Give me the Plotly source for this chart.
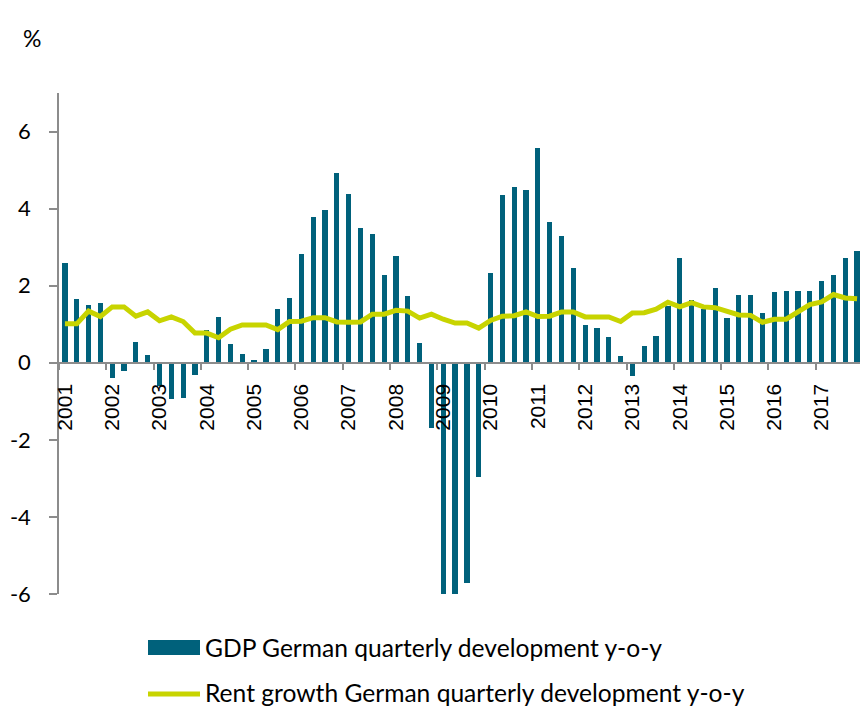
import plotly.graph_objects as go

years = [str(y) for y in range(2001, 2018)]
quarters = list(range(68))  # 2001Q1 .. 2017Q4

gdp = [2.60, 1.65, 1.51, 1.54,
       -0.40, -0.22, 0.55, 0.21,
       -0.60, -0.94, -0.91, -0.33,
       0.86, 1.19, 0.50, 0.23,
       0.07, 0.37, 1.39, 1.67,
       2.82, 3.77, 3.97, 4.93,
       4.39, 3.50, 3.33, 2.29,
       2.76, 1.74, 0.52, -1.70,
       -6.10, -6.10, -5.71, -2.97,
       2.34, 4.35, 4.57, 4.49,
       5.57, 3.64, 3.28, 2.45,
       0.99, 0.90, 0.66, 0.18,
       -0.35, 0.43, 0.70, 1.47,
       2.71, 1.64, 1.40, 1.93,
       1.15, 1.77, 1.77, 1.30,
       1.84, 1.85, 1.87, 1.85,
       2.13, 2.29, 2.71, 2.91]

rent = [1.01, 1.01, 1.34, 1.20,
        1.45, 1.45, 1.21, 1.32,
        1.09, 1.19, 1.07, 0.77,
        0.77, 0.65, 0.87, 0.98,
        0.98, 0.98, 0.86, 1.07,
        1.08, 1.17, 1.17, 1.06,
        1.05, 1.06, 1.26, 1.26,
        1.36, 1.34, 1.16, 1.26,
        1.13, 1.03, 1.03, 0.90,
        1.10, 1.21, 1.22, 1.32,
        1.20, 1.21, 1.32, 1.32,
        1.19, 1.19, 1.19, 1.07,
        1.29, 1.30, 1.39, 1.57,
        1.45, 1.56, 1.45, 1.43,
        1.33, 1.24, 1.23, 1.05,
        1.13, 1.13, 1.32, 1.51,
        1.58, 1.77, 1.68, 1.66]

gdp_name = "GDP German quarterly development y-o-y"
rent_name = "Rent growth German quarterly development y-o-y"
y_ticks = [-6, -4, -2, 0, 2, 4, 6]
y_ticktext = ["-6", "-4", "-2", "0", "2", "4", "6"]

BAR_COLOR = "#00617B"
LINE_COLOR = "#C8D400"
AXIS_COLOR = "#8C8C8C"

W, H = 860, 707
# plot area in page pixels
L, R, T, B = 59, 860, 93, 594


def px_x(px):
    return (px - L) / (R - L)


def px_y(py):
    return (B - py) / (B - T)


fig = go.Figure()
fig.add_trace(go.Bar(x=quarters, y=gdp, name=gdp_name, marker_color=BAR_COLOR,
                     marker_line_width=0, width=0.44, showlegend=False))
fig.add_trace(go.Scatter(x=quarters, y=rent, name=rent_name, mode="lines",
                         line=dict(color=LINE_COLOR, width=5), showlegend=False))

label_pos = [q for q in quarters if q % 4 == 0]
tick_pos = [q - 0.5 for q in quarters if q % 4 == 0]

fig.update_layout(
    width=W, height=H,
    margin=dict(l=L, r=W - R, t=T, b=H - B, pad=0, autoexpand=False),
    plot_bgcolor="white", paper_bgcolor="white",
    showlegend=False,
    xaxis=dict(
        range=[-0.5, -0.5 + 68 * (R - L) / 804],
        anchor="free", position=6 / 13, automargin=False,
        showline=True, linecolor=AXIS_COLOR, linewidth=1.5,
        showgrid=False, zeroline=False,
        tickmode="array", tickvals=label_pos, ticktext=years,
        ticks="", tickangle=-90, ticklabelstandoff=12,
        tickfont=dict(family="Liberation Sans", size=21, color="black"),
        minor=dict(tickmode="array", tickvals=tick_pos, ticks="outside",
                   ticklen=6, tickwidth=1.5, tickcolor=AXIS_COLOR, showgrid=False),
    ),
    yaxis=dict(
        range=[-6, 7], automargin=False,
        showline=True, linecolor=AXIS_COLOR, linewidth=1.5,
        showgrid=False, zeroline=False,
        tickmode="array", tickvals=y_ticks, ticktext=y_ticktext,
        ticks="outside", ticklen=8, tickwidth=1.5, tickcolor=AXIS_COLOR,
        ticklabelstandoff=14,
        tickfont=dict(family="Lato", size=22, color="black"),
    ),
    bargap=0,
)

# "%" unit label
fig.add_annotation(text="%", xref="paper", yref="paper", x=px_x(21), y=px_y(22),
                   showarrow=False, font=dict(family="Lato", size=23, color="black"))

# custom legend
fig.add_shape(type="rect", xref="paper", yref="paper",
              x0=px_x(148), x1=px_x(200), y0=px_y(655), y1=px_y(640),
              fillcolor=BAR_COLOR, line_width=0)
fig.add_shape(type="line", xref="paper", yref="paper",
              x0=px_x(148), x1=px_x(200), y0=px_y(694), y1=px_y(694),
              line=dict(color=LINE_COLOR, width=5))
fig.add_annotation(text=gdp_name, xref="paper", yref="paper",
                   x=px_x(203), y=px_y(647), xanchor="left", yanchor="middle",
                   showarrow=False, font=dict(family="Lato", size=24.6, color="black"))
fig.add_annotation(text=rent_name, xref="paper", yref="paper",
                   x=px_x(203), y=px_y(692), xanchor="left", yanchor="middle",
                   showarrow=False, font=dict(family="Lato", size=24.6, color="black"))

fig.write_html(
    "out.html",
    config={"displayModeBar": False},
    post_script="document.body.style.margin='0';document.body.style.overflow='hidden';",
)
